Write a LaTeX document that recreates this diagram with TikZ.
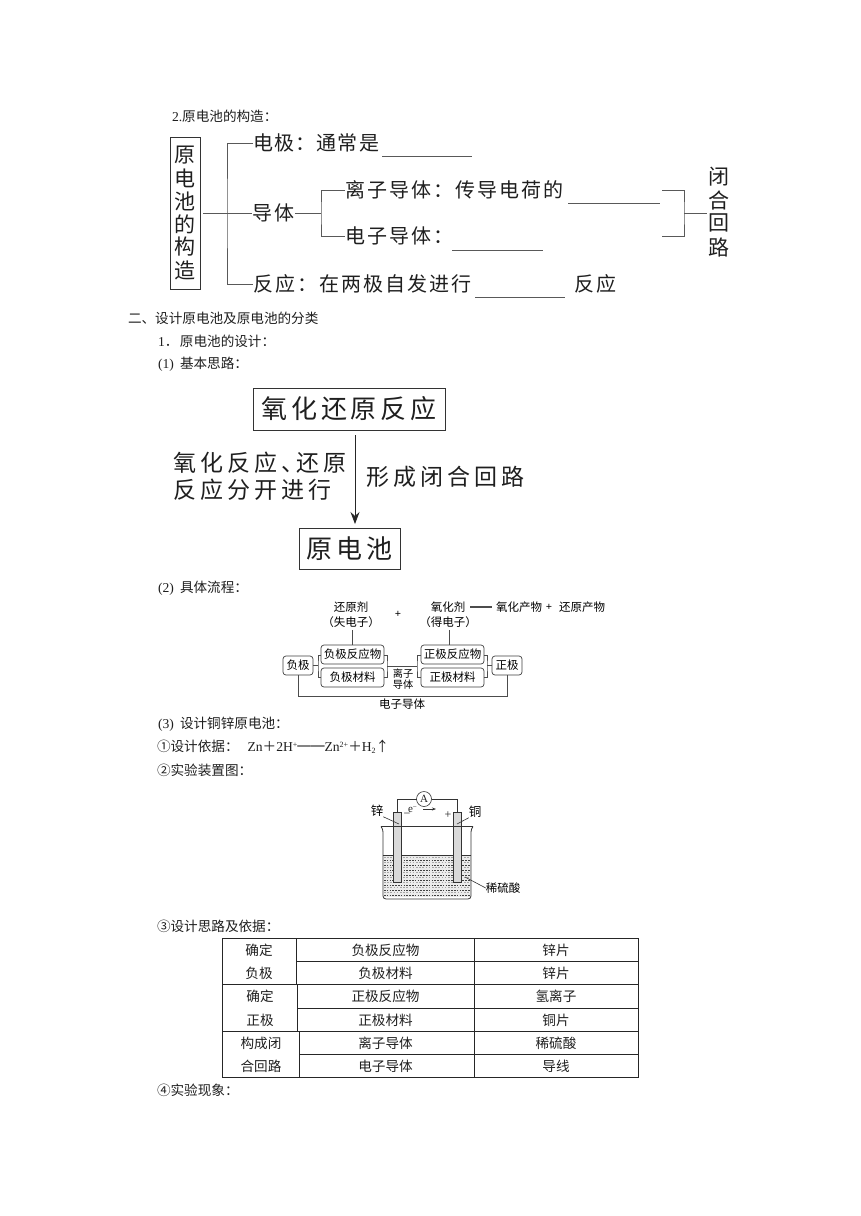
\documentclass[tikz,border=0pt]{standalone}
\usepackage{fontspec}
\usetikzlibrary{arrows.meta}
\newfontfamily\cj{Noto Sans CJK SC}
\newfontfamily\lat{Liberation Serif}
\newcommand\fsz[1]{\fontsize{#1}{#1}\selectfont}
\newcommand\wide[1]{\addfontfeature{LetterSpace=#1}}
\newcommand\supr[1]{\raisebox{4.5pt}{\fsz{8}\lat #1}}
\newcommand\subr[1]{\raisebox{-2pt}{\fsz{8}\lat #1}}
\newcommand\numlab[1]{\makebox[22pt][l]{\lat #1}}
\tikzset{
 every node/.style={inner sep=0pt,outer sep=0pt,text=black!88},
 body/.style={anchor=west,font=\cj\fsz{13.6}},
 tree/.style={anchor=west,font=\cj\fsz{20}\wide{10}},
 treeb/.style={anchor=west,font=\cj\fsz{20}\wide{6}},
 treev/.style={font=\cj\fsz{21},align=center},
 tl/.style={draw=black!65,line width=0.9pt},
 big/.style={font=\cj\fsz{26}\wide{15}},
 mid/.style={font=\cj\fsz{23}\wide{18}},
 frame/.style={draw=black!80,line width=1pt},
 flow/.style={font=\cj\fsz{11.5},align=center,text=black},
 fbox/.style={draw=black!75,line width=0.7pt,rounded corners=3pt,font=\cj\fsz{11.5},minimum height=19pt,align=center,text=black},
 fl/.style={draw=black!70,line width=0.7pt},
 lab/.style={font=\cj\fsz{12.5},text=black},
 cell/.style={font=\cj\fsz{13.6}},
 rule/.style={draw=black!85,line width=0.8pt},
 appar/.style={draw=black!80,line width=0.6pt},
}
\begin{document}
\begin{tikzpicture}[x=1pt,y=-1pt]
\useasboundingbox[fill=white] (0,0) rectangle (860,1216);
% ---- body lines
\node[body] (t1) at (172,116) {{\lat 2.}原电池的构造：};
\node[body] (t2) at (128,318) {二、设计原电池及原电池的分类};
\node[body] (t3) at (158,341) {\numlab{1{\cj．}}原电池的设计：};
\node[body] (t4) at (158,364) {\numlab{(1)}基本思路：};
\node[body] (t5) at (158,588) {\numlab{(2)}具体流程：};
\node[body] (t6) at (158,724) {\numlab{(3)}设计铜锌原电池：};
\node[body] (t7) at (157,747) {①设计依据：\hspace{9pt}{\lat Zn}＋{\lat 2H}\supr{+}══{\lat Zn}\supr{2+}＋{\lat H}\subr{2}↑};
\node[body] (t8) at (157,770) {②实验装置图：};
\node[body] (t9) at (157,926) {③设计思路及依据：};
\node[body] (t10) at (157,1090) {④实验现象：};
% ---- structure tree
\node[frame,minimum width=30pt,minimum height=152pt] (yd) at (185,213) {};
\foreach \c/\y in {原/155,电/178,池/201,的/224,构/247,造/270}{\node[treev] at (185,\y) {\c};}
\node[treeb] (dj) at (253,143) {电极：通常是};
\node[tree] (dt) at (252,213) {导体};
\node[tree] (fy) at (253,284) {反应：在两极自发进行};
\node[tree] (fy2) at (574,284) {反应};
\node[tree] (lz) at (345,190) {离子导体：传导电荷的};
\node[tree] (dz) at (345,236) {电子导体：};
\foreach \c/\y in {闭/177,合/200,回/223,路/247}{\node[treev] at (719,\y) {\c};}
\coordinate (tm) at (227,213);
\coordinate (sm) at (321,213);
\coordinate (rm) at (684,213);
\coordinate (hk) at (707,213);
\coordinate (u1a) at (382,156); \coordinate (u1b) at (472,156);
\coordinate (u2a) at (568,203); \coordinate (u2b) at (660,203);
\coordinate (u3a) at (452,250); \coordinate (u3b) at (543,250);
\coordinate (u4a) at (475,297); \coordinate (u4b) at (565,297);
\coordinate (r1) at (662,190); \coordinate (r2) at (662,236);
\draw[tl] (yd.east)++(3,0) -- (dt.west);
\draw[tl] (dj.west) -| (tm) |- (fy.west);
\draw[tl] (dt.east)++(1,0) -- (sm);
\draw[tl] (lz.west) -| (sm) |- (dz.west);
\draw[tl] (r1) -| (rm) |- (r2);
\draw[tl] (rm) -- (hk);
\foreach \a/\b in {u1a/u1b,u2a/u2b,u3a/u3b,u4a/u4b}{\draw[tl] (\a) -- (\b);}
% ---- thought path
\node[frame,big,minimum width=192pt,minimum height=42pt] (rx) at (349,409) {氧化还原反应};
\node[frame,big,minimum width=101pt,minimum height=41pt] (yc) at (349.5,549) {原电池};
\node[mid,anchor=west] (a1) at (173,463) {氧化反应、\hspace{-8pt}还原};
\node[mid,anchor=west] (a2) at (173,490) {反应分开进行};
\node[mid,anchor=west] (a3) at (366,477) {形成闭合回路};
\coordinate (ar1) at (355,435); \coordinate (ar2) at (355,524);
\draw[black!85,line width=0.8pt,-{Stealth[length=12pt,width=9pt,inset=4pt]}] (ar1) -- (ar2);
% ---- flow
\node[flow] (hy) at (351,614.5) {还原剂\\[3.5pt]（失电子）};
\node[flow,font=\lat\bfseries\fsz{11}] (pl) at (398,614) {+};
\node[flow] (yh) at (448,614.5) {氧化剂\\[3.5pt]（得电子）};
\coordinate (e1) at (470,607); \coordinate (e2) at (492,607);
\draw[black!70,line width=1.6pt] (e1) -- (e2);
\node[flow,anchor=west] (p1) at (496,607) {氧化产物};
\node[flow,font=\lat\bfseries\fsz{11}] (pl2) at (549,607) {+};
\node[flow,anchor=west] (p2) at (559,607) {还原产物};
\node[fbox,minimum width=63pt] (nf) at (352.5,654.5) {负极反应物};
\node[fbox,minimum width=63pt] (nc) at (352.5,677.5) {负极材料};
\node[fbox,minimum width=63pt] (pf) at (452.5,654.5) {正极反应物};
\node[fbox,minimum width=63pt] (pc) at (452.5,677.5) {正极材料};
\node[fbox,minimum width=30pt] (ne) at (298,665.5) {负极};
\node[fbox,minimum width=30pt] (pe) at (507,665.5) {正极};
\node[flow,font=\cj\fsz{10.2}] (lzd) at (403,679) {离子\\导体};
\node[flow] (dzd) at (402,704) {电子导体};
\coordinate (t1c) at (352.5,630); \coordinate (t2c) at (449,630);
\draw[fl] (t1c) -- (t1c |- nf.north);
\draw[fl] (t2c) -- (t2c |- pf.north);
\coordinate (bl1) at (318,665.5); \coordinate (bl2) at (387,666);
\coordinate (bl3) at (417,666); \coordinate (bl4) at (487,665.5);
\draw[fl] (ne.east) -- (bl1);
\draw[fl] (nf.west |- 0,655) -| (bl1) |- (nc.west |- 0,677);
\draw[fl] (nf.east |- 0,655) -| (bl2) |- (nc.east |- 0,677);
\draw[fl] (pf.west |- 0,655) -| (bl3) |- (pc.west |- 0,677);
\draw[fl] (pf.east |- 0,655) -| (bl4) |- (pc.east |- 0,677);
\draw[fl] (bl2) -- (bl3);
\draw[fl] (bl4) -- (pe.west);
\draw[fl] (ne.south) -- ++(0,21) -| (pe.south);
% ---- apparatus
\fill[black!8] (383.5,855) rectangle (470.5,897);
\foreach \y in {860,865,...,897}{\draw[black!75,line width=1pt,dash pattern=on 1.6pt off 1.2pt] (384,\y) -- (470,\y);}
\foreach \y in {857.5,862.5,...,897}{\draw[black!35,line width=1pt,dash pattern=on 1.6pt off 1.6pt] (384,\y) -- (470,\y);}
\draw[appar,line width=0.8pt,rounded corners=3pt] (381,826.5) -- (383,829) -- (383,899) -- (471,899) -- (471,829) -- (473,826.5);
\draw[appar] (383,855) -- (471,855);
\node[draw=black!80,line width=0.6pt,fill=black!15,minimum width=8pt,minimum height=70pt] (zn) at (397,847) {};
\node[draw=black!80,line width=0.6pt,fill=black!15,minimum width=8pt,minimum height=70pt] (cu) at (457,847) {};
\draw[appar] (381,826.5) -- (473,826.5);
\node[draw=black!80,line width=0.6pt,circle,minimum size=15pt,font=\lat\fsz{11}] (am) at (424,799) {A};
\draw[appar] (zn.north) |- (am.west);
\draw[appar] (cu.north) |- (am.east);
\node[lab] (zl) at (377,811) {锌};
\node[lab] (cl) at (475,812) {铜};
\node[lab,font=\cj\fsz{11.5}] (xl) at (503,888) {稀硫酸};
\coordinate (zp) at (399,824); \coordinate (cp) at (457,824); \coordinate (xp) at (465,877);
\draw[appar] (zl.south east) -- (zp);
\draw[appar] (cl.south west) -- (cp);
\draw[appar] (xl.west) -- (xp);
\node[font=\lat\fsz{12}] (mi) at (407,815) {−};
\node[font=\lat\fsz{11}] (el) at (412.5,810) {e\raisebox{3pt}{\fsz{7}−}};
\node[font=\lat\fsz{12}] (pq) at (448,815) {+};
\coordinate (ea) at (423,809); \coordinate (eb) at (436,809);
\draw[appar,-{Stealth[length=4pt,width=3pt]}] (ea) -- (eb);
% ---- table
\foreach \n/\x/\y in {tl0/222/938,tr0/638/938,tl2/222/984,tr2/638/984,tl4/222/1031,tr4/638/1031,tl6/222/1077.5,tr6/638/1077.5}{\coordinate (\n) at (\x,\y);}
\draw[rule] (tl0) rectangle (tr6);
\draw[rule] (tl2) -- (tr2);
\draw[rule] (tl4) -- (tr4);
\draw[rule] (296,938) -- (296,984);
\draw[rule] (297.5,984) -- (297.5,1031);
\draw[rule] (299,1031) -- (299,1077.5);
\draw[rule] (474,938) -- (474,1077.5);
\draw[rule] (296,961) -- (638,961);
\draw[rule] (297.5,1008) -- (638,1008);
\draw[rule] (299,1054) -- (638,1054);
\foreach \a/\b/\c/\d/\y/\k in {确定/负极反应物/锌片/259/950/a,负极/负极材料/锌片/259/973/b,确定/正极反应物/氢离子/260/996/c,正极/正极材料/铜片/260/1020/d,构成闭/离子导体/稀硫酸/261/1043/e,合回路/电子导体/导线/261/1066/f}{
 \node[cell] (c1\k) at (\d,\y) {\a};
 \node[cell] (c2\k) at (385.5,\y) {\b};
 \node[cell] (c3\k) at (556,\y) {\c};
}
\end{tikzpicture}
\end{document}
